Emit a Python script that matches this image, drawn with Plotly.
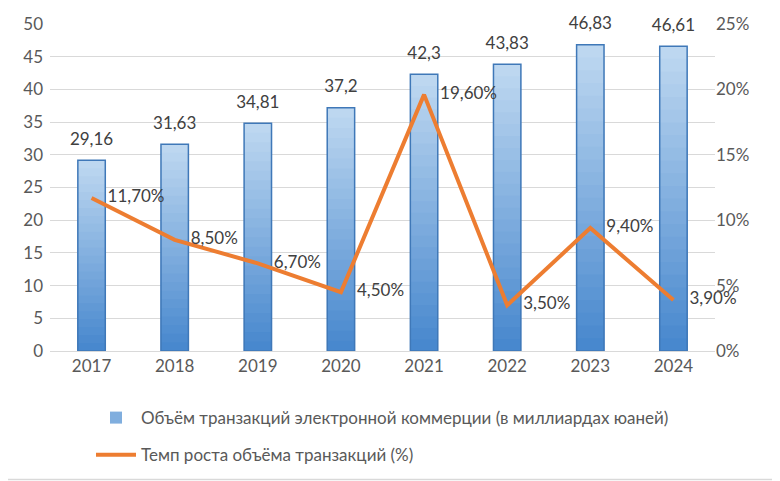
import plotly.graph_objects as go

years = ['2017', '2018', '2019', '2020', '2021', '2022', '2023', '2024']
volume = [29.16, 31.63, 34.81, 37.2, 42.3, 43.83, 46.83, 46.61]
growth = [11.7, 8.5, 6.7, 4.5, 19.6, 3.5, 9.4, 3.9]

bar_name = 'Объём транзакций электронной коммерции (в миллиардах юаней)'
line_name = 'Темп роста объёма транзакций (%)'

FONT = 'Lato, "Open Sans", sans-serif'
GRAY = '#595959'

# bar gradient: light at top -> darker at bottom, built from stacked overlay layers
top_rgb = (189, 215, 240)
bot_rgb = (72, 136, 206)
N = 24

fig = go.Figure()
for k in range(N):
    t = k / (N - 1)
    c = tuple(round(top_rgb[i] + (bot_rgb[i] - top_rgb[i]) * t) for i in range(3))
    frac = (N - k) / N
    fig.add_trace(go.Bar(
        x=years, y=[v * frac for v in volume],
        marker=dict(color='rgb(%d,%d,%d)' % c, line=dict(width=0)),
        name=bar_name, legendgroup='bars', showlegend=(k == N // 2),
        hoverinfo='skip'))

# outline
fig.add_trace(go.Bar(
    x=years, y=volume,
    marker=dict(color='rgba(0,0,0,0)', line=dict(color='#3F78B8', width=1.5)),
    legendgroup='bars', showlegend=False, hoverinfo='skip'))

# value labels above the bars (invisible markers push the text up a bit)
fig.add_trace(go.Scatter(
    x=years, y=volume, mode='markers+text',
    marker=dict(size=16, opacity=0),
    text=[str(v).replace('.', ',') for v in volume],
    textposition='top center', cliponaxis=False,
    textfont=dict(family=FONT, size=17, color='#404040'),
    showlegend=False, hoverinfo='skip'))

# growth line
fig.add_trace(go.Scatter(
    x=years, y=growth, yaxis='y2', mode='lines',
    line=dict(color='#ED7D31', width=4),
    name=line_name, legendgroup='line'))

# growth labels, to the right of each point
fig.add_trace(go.Scatter(
    x=years, y=growth, yaxis='y2', mode='markers+text',
    marker=dict(size=24, opacity=0),
    text=[('%.2f%%' % v).replace('.', ',') for v in growth],
    textposition='middle right', cliponaxis=False,
    textfont=dict(family=FONT, size=17, color='#404040'),
    showlegend=False, hoverinfo='skip'))

# page body has an 8px margin, so the figure is a bit smaller than the window
W, H = 772, 473
ml, mr, mt, mb = 42, 65, 16, 130
pw, ph = W - ml - mr, H - mt - mb

fig.update_layout(
    width=W, height=H,
    margin=dict(l=ml, r=mr, t=mt, b=mb, autoexpand=False),
    barmode='overlay', bargap=0.67,
    separators=', ',
    plot_bgcolor='white', paper_bgcolor='white',
    font=dict(family=FONT, size=17, color=GRAY),
    xaxis=dict(range=[-0.5, len(years) - 0.5], showgrid=False, showline=True,
               linecolor='#D9D9D9', automargin=False,
               ticks='', tickfont=dict(size=17, color=GRAY)),
    yaxis=dict(range=[0, 50], dtick=5, gridcolor='#D9D9D9', zeroline=False,
               showline=False, automargin=False,
               tickfont=dict(size=17, color=GRAY), ticklabelstandoff=6),
    yaxis2=dict(range=[0, 25], dtick=5, overlaying='y', side='right',
                ticksuffix='%', showgrid=False, zeroline=False, automargin=False,
                tickfont=dict(size=17, color=GRAY)),
    legend=dict(orientation='v', x=0.5, xanchor='center', y=-0.15, yanchor='top',
                font=dict(size=17, color=GRAY), tracegroupgap=12,
                itemwidth=40, traceorder='grouped'),
    shapes=[
        dict(type='line', xref='paper', yref='paper',
             x0=(W - 1.5 - ml) / pw, x1=(W - 1.5 - ml) / pw,
             y0=-(H - 1.5 - mt - ph) / ph, y1=(ph + mt) / ph,
             line=dict(color='#D9D9D9', width=1.5)),
        dict(type='line', xref='paper', yref='paper',
             x0=-ml / pw, x1=(W - 1.5 - ml) / pw,
             y0=-(H - 1.5 - mt - ph) / ph, y1=-(H - 1.5 - mt - ph) / ph,
             line=dict(color='#D9D9D9', width=1.5)),
    ],
)

fig.write_html('out.html')
